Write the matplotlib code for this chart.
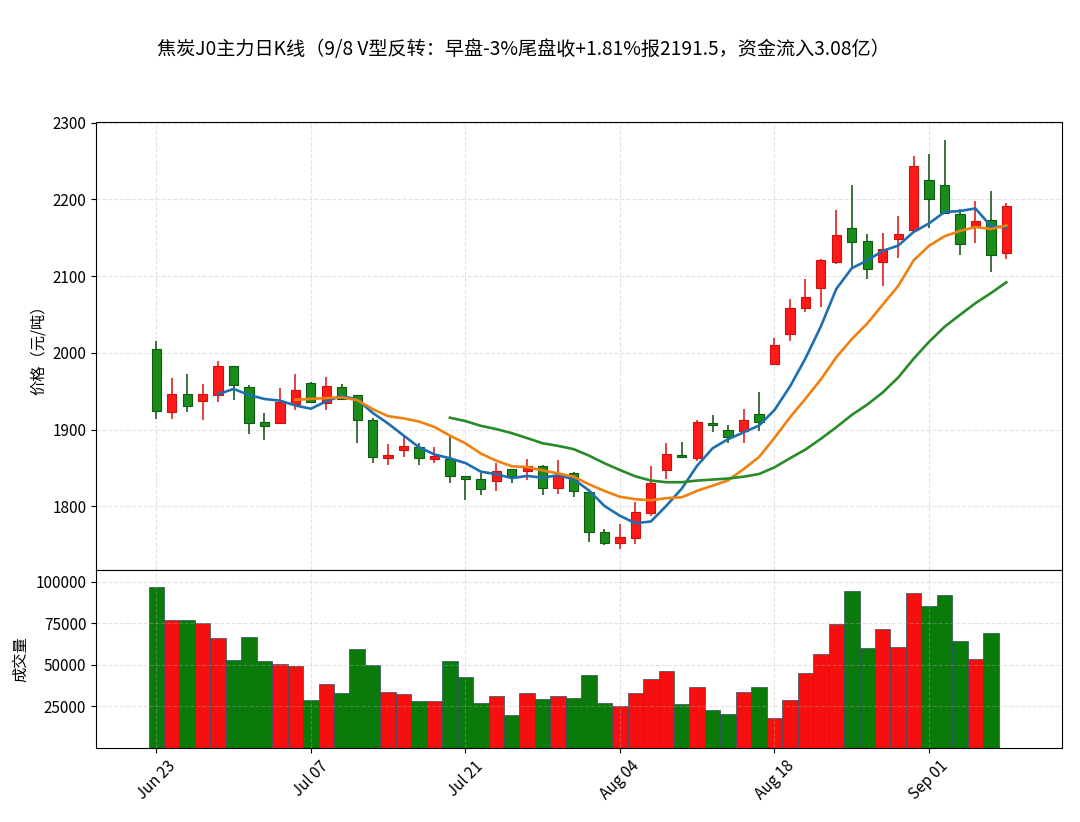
import numpy as np
import pandas as pd
import matplotlib
matplotlib.use("Agg")
import matplotlib.pyplot as plt

plt.rcParams["font.family"] = ["Noto Sans CJK SC", "DejaVu Sans"]
plt.rcParams["axes.unicode_minus"] = False

title = "焦炭J0主力日K线（9/8 V型反转：早盘-3%尾盘收+1.81%报2191.5，资金流入3.08亿）"

# daily OHLC, Jun 23 .. Sep 08 (trading days)
opens = [2005, 1923, 1946, 1937, 1945, 1982.5, 1955, 1909.6, 1909, 1934,
         1960.5, 1935, 1956, 1945, 1912, 1863, 1873, 1877, 1862, 1862,
         1839, 1835, 1833, 1849, 1846, 1853, 1823.5, 1844, 1818, 1766,
         1752.6, 1759, 1791, 1847, 1866.5, 1863.5, 1908.7, 1899, 1898, 1920,
         1985, 2024, 2058, 2084, 2119, 2163, 2146, 2119, 2148, 2160,
         2226, 2219, 2181, 2165, 2172.6, 2130]
highs = [2015, 1967, 1972, 1960, 1989, 1983, 1958, 1921, 1954, 1972,
         1962, 1968, 1960, 1945, 1914.5, 1881, 1891, 1883, 1877, 1891,
         1840, 1843, 1857, 1849, 1862, 1854, 1861, 1845, 1818, 1770,
         1776.5, 1805, 1852, 1883, 1883.5, 1913, 1919, 1906, 1927, 1949,
         2020, 2070, 2096, 2123, 2186, 2219, 2155, 2156, 2178, 2257,
         2259, 2277, 2187, 2198, 2211, 2195]
lows = [1914, 1914, 1923, 1912, 1936, 1938, 1894, 1887, 1908, 1925,
        1935, 1925, 1938, 1883, 1856, 1854, 1864, 1854, 1856, 1830,
        1808, 1815, 1820, 1830, 1834, 1815, 1816.5, 1812, 1753, 1750,
        1744, 1751, 1788, 1836, 1864, 1859, 1896.5, 1883, 1883, 1898,
        1985, 2016, 2053, 2060, 2116, 2111, 2096, 2087, 2124, 2157,
        2163, 2182, 2128, 2143, 2106, 2123]
closes = [1924, 1947, 1931, 1946.5, 1982.5, 1958, 1908, 1904.4, 1936, 1951,
          1936.4, 1957, 1939.5, 1912, 1864, 1867, 1879, 1863, 1865, 1839,
          1836, 1823, 1846, 1840, 1853, 1824, 1840, 1820, 1766, 1752,
          1760, 1792, 1831, 1868, 1864.5, 1909.6, 1905.7, 1890, 1912, 1909.6,
          2010, 2059, 2073, 2121, 2154, 2145, 2109, 2136, 2155, 2243,
          2201, 2183, 2142.5, 2172, 2128, 2191.5]
# volume (no bar for the last day)
volume = [97000, 77000, 77000, 75000, 66000, 53000, 66500, 52000, 50500, 49000,
          29000, 38500, 33000, 59500, 50000, 33500, 32500, 28000, 28000, 52000,
          42500, 27000, 31500, 20000, 33000, 29500, 31300, 29900, 43900, 27100,
          25500, 33100, 41700, 46100, 26500, 36700, 22700, 20600, 33700, 36900,
          18200, 28900, 44900, 56700, 74400, 94400, 59900, 71600, 60900, 93000,
          85400, 91800, 64100, 53300, 69000]

tick_labels = ["Jun 23", "Jul 07", "Jul 21", "Aug 04", "Aug 18", "Sep 01"]

df = pd.DataFrame({"open": opens, "high": highs, "low": lows, "close": closes})
df["ma5"] = df["close"].rolling(5).mean()
df["ma10"] = df["close"].rolling(10).mean()
df["ma20"] = df["close"].rolling(20).mean()
x = np.arange(len(df))
up = df["close"] >= df["open"]

fig = plt.figure(figsize=(10.8, 8.22), dpi=100)
ax1 = fig.add_axes([0.0889, 0.3066, 0.8944, 0.545])
ax2 = fig.add_axes([0.0889, 0.090, 0.8944, 0.2166], sharex=ax1)

##### candles #####
body_col = np.where(up, "#ff1a1a", "#1a8c1a")
edge_col = np.where(up, "#cc1111", "#0f5a0f")
wick_col = np.where(up, "#e02020", "#1e5a1e")
ax1.vlines(x, df["low"], df["high"], colors=wick_col, linewidth=1.2, zorder=2)
ax1.bar(x, (df["close"] - df["open"]).abs(), width=0.6,
        bottom=df[["open", "close"]].min(axis=1),
        color=body_col, edgecolor=edge_col, linewidth=0.8, zorder=3)

ax1.plot(x, df["ma5"], color="#1f6fb0", lw=1.9, zorder=4)
ax1.plot(x, df["ma10"], color="#f08010", lw=1.9, zorder=4)
ax1.plot(x, df["ma20"], color="#2a8a2a", lw=1.9, zorder=4)

ax1.set_ylim(1717, 2301)
ax1.set_xlim(-3.9, 58.6)
ax1.set_ylabel("价格（元/吨）", fontsize=11)
ax1.grid(True, linestyle="--", alpha=0.35)
ax1.tick_params(axis="x", labelbottom=False, length=0)
ax1.tick_params(axis="y", labelsize=11)

##### volume #####
nv = len(volume)
vol_col = np.where(up[:nv], "#f50f0f", "#0a7a0a")
ax2.bar(x[:nv], volume, width=1.0, color=vol_col, edgecolor="#2f4f5f", linewidth=0.5)
ax2.set_ylim(0, 107000)
ax2.set_yticks([25000, 50000, 75000, 100000])
ax2.set_ylabel("成交量", fontsize=11)
ax2.grid(True, linestyle="--", alpha=0.35)
ax2.tick_params(axis="y", labelsize=11)
ax2.set_xticks(np.arange(0, 60, 10))
ax2.set_xticklabels(tick_labels, rotation=45, fontsize=11)

fig.suptitle(title, x=0.485, y=0.952, fontsize=13.8)

fig.savefig("out.png", dpi=100)
